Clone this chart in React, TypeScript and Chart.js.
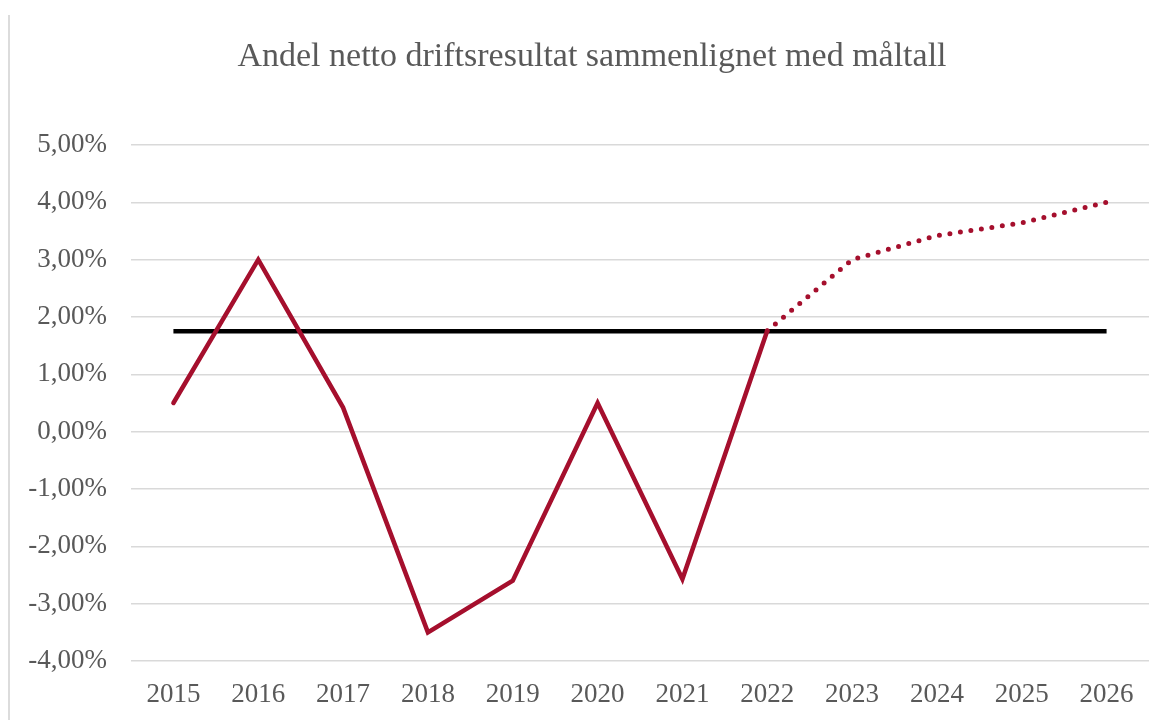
import React, { useEffect, useRef } from "react";
import { Chart, registerables } from "chart.js";

Chart.register(...registerables);

const TITLE = "Andel netto driftsresultat sammenlignet med måltall";
const years = ["2015", "2016", "2017", "2018", "2019", "2020", "2021", "2022", "2023", "2024", "2025", "2026"];
const actual: (number | null)[] = [0.5, 3.0, 0.42, -3.5, -2.6, 0.5, -2.57, 1.76, null, null, null, null];
const forecast: (number | null)[] = [null, null, null, null, null, null, null, 1.76, 3.0, 3.42, 3.64, 4.0];
const target: number[] = [1.75, 1.75, 1.75, 1.75, 1.75, 1.75, 1.75, 1.75, 1.75, 1.75, 1.75, 1.75];
const yMin = -4;
const yMax = 5;
const yStep = 1;

const RED = "#A50F2D";
const TEXT = "#595959";
const GRID = "#d9d9d9";
const FONT = "'Liberation Serif', 'DejaVu Serif', serif";

export default function App() {
  const ref = useRef<HTMLCanvasElement | null>(null);
  useEffect(() => {
    if (!ref.current) return;
    const chart = new Chart(ref.current, {
      type: "line",
      data: {
        labels: years,
        datasets: [
          {
            label: "Netto driftsresultat",
            data: actual,
            borderColor: RED,
            backgroundColor: RED,
            borderWidth: 4.5,
            borderCapStyle: "round",
            borderJoinStyle: "miter",
            pointRadius: 0,
            tension: 0,
            spanGaps: false,
            order: 0,
          },
          {
            label: "Prognose",
            data: forecast,
            borderColor: RED,
            backgroundColor: RED,
            borderWidth: 5,
            borderCapStyle: "round",
            borderDash: [0, 10.6],
            pointRadius: 0,
            tension: 0,
            order: 0,
          },
          {
            label: "Måltall",
            data: target,
            borderColor: "#000000",
            backgroundColor: "#000000",
            borderWidth: 4.5,
            borderCapStyle: "butt",
            pointRadius: 0,
            tension: 0,
            order: 1,
          },
        ],
      },
      options: {
        animation: false,
        responsive: false,
        maintainAspectRatio: false,
        layout: { padding: { left: 35, right: 13, top: 0, bottom: 0 } },
        plugins: {
          legend: { display: false },
          tooltip: { enabled: false },
          title: {
            display: true,
            text: TITLE,
            color: TEXT,
            font: { family: FONT, size: 34, weight: "normal", lineHeight: 1.2 },
            padding: { top: 37, bottom: 67.2 },
          },
        },
        scales: {
          x: {
            grid: { display: false, drawTicks: false },
            border: { display: false },
            offset: true,
            ticks: {
              color: TEXT,
              font: { family: FONT, size: 27 },
              padding: 18,
              maxRotation: 0,
              autoSkip: false,
            },
            afterFit: (s: any) => {
              s.height = 59;
            },
          },
          y: {
            min: yMin,
            max: yMax,
            grid: { color: GRID, lineWidth: 1.5, drawTicks: false },
            border: { display: false },
            ticks: {
              stepSize: yStep,
              color: TEXT,
              font: { family: FONT, size: 27 },
              padding: 24,
              callback: (v: any) => Number(v).toFixed(2).replace(".", ",") + "%",
            },
            afterFit: (s: any) => {
              s.width = 96;
              s._computeLabelArea = () => undefined;
            },
          },
        },
      },
    });
    return () => chart.destroy();
  }, []);
  return (
    <div style={{ position: "fixed", left: 0, top: 0, width: 1162, height: 720, background: "#fff" }}>
      <div style={{ position: "absolute", left: 8, top: 15, width: 1.5, height: 705, background: "#dcdcdc" }} />
      <canvas ref={ref} width={1162} height={720} style={{ position: "absolute", left: 0, top: 0 }} />
    </div>
  );
}
